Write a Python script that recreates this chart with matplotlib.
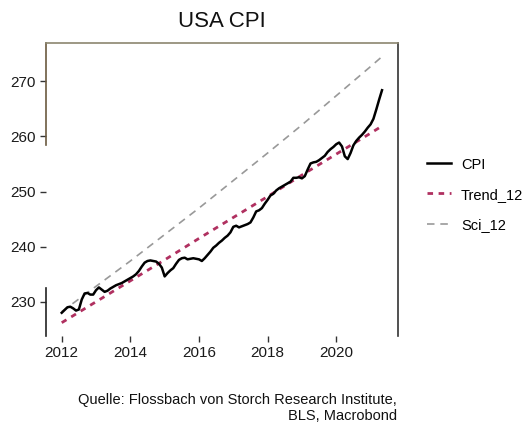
import matplotlib
matplotlib.use("Agg")
import matplotlib.pyplot as plt
import numpy as np

plt.rcParams['font.family'] = ['Liberation Sans', 'DejaVu Sans']

# Monthly CPI (seasonally adjusted), Jan 2012 .. May 2021
cpi_2012 = [228.0, 228.5, 229.0, 229.1, 228.8, 228.4, 228.6, 230.4, 231.5, 231.6, 231.3, 231.3]
cpi_2013 = [232.1, 232.6, 232.2, 231.8, 232.0, 232.4, 232.7, 233.0, 233.2, 233.4, 233.7, 234.0]
cpi_2014 = [234.3, 234.6, 235.0, 235.6, 236.4, 237.1, 237.4, 237.5, 237.4, 237.3, 236.9, 236.2]
cpi_2015 = [234.6, 235.2, 235.7, 236.1, 236.9, 237.6, 237.9, 238.0, 237.7, 237.8, 237.9, 237.8]
cpi_2016 = [237.7, 237.4, 237.9, 238.5, 239.1, 239.8, 240.2, 240.7, 241.1, 241.6, 242.0, 242.6]
cpi_2017 = [243.6, 243.8, 243.5, 243.7, 243.9, 244.1, 244.4, 245.3, 246.4, 246.6, 247.0, 247.8]
cpi_2018 = [248.5, 249.3, 249.6, 250.2, 250.6, 250.9, 251.2, 251.5, 251.8, 252.5, 252.5, 252.6]
cpi_2019 = [252.4, 252.8, 254.0, 255.1, 255.3, 255.4, 255.7, 256.1, 256.5, 257.2, 257.7, 258.1]
cpi_2020 = [258.6, 258.9, 258.2, 256.4, 255.9, 257.0, 258.4, 259.2, 259.8, 260.3, 260.9, 261.6]
cpi_2021 = [262.2, 263.2, 264.9, 266.7, 268.4]
cpi = (cpi_2012 + cpi_2013 + cpi_2014 + cpi_2015 + cpi_2016 + cpi_2017
       + cpi_2018 + cpi_2019 + cpi_2020 + cpi_2021)
start_year = 2012

# Trend lines read at each January plus the last month (May 2021)
trend_years = [2012, 2013, 2014, 2015, 2016, 2017, 2018, 2019, 2020, 2021, 2021 + 4 / 12]
trend_12 = [226.2, 230.0, 233.8, 237.6, 241.5, 245.3, 249.1, 253.0, 256.8, 260.6, 261.9]
sci_12 = [228.2, 232.8, 237.4, 242.2, 247.0, 252.0, 257.0, 262.1, 267.4, 272.7, 274.5]

x_ticks = [2012, 2014, 2016, 2018, 2020]
y_ticks = [230, 240, 250, 260, 270]

title = "USA CPI"
caption = "Quelle: Flossbach von Storch Research Institute,\nBLS, Macrobond"

cpi_x = [start_year + i / 12 for i in range(len(cpi))]

fig = plt.figure(figsize=(5.29, 4.23), dpi=100)
ax = fig.add_axes([0.0864, 0.2057, 0.6660, 0.6919])

l_sci, = ax.plot(trend_years, sci_12, color='#999999', lw=1.2, dashes=(4.5, 3.5), label='Sci_12')
l_trend, = ax.plot(trend_years, trend_12, color='#B03060', lw=2.0, dashes=(2, 2), label='Trend_12')
l_cpi, = ax.plot(cpi_x, cpi, color='black', lw=1.8, label='CPI')

xmin, xmax = min(cpi_x + trend_years), max(cpi_x + trend_years)
ymin, ymax = min(cpi + trend_12 + sci_12), max(cpi + trend_12 + sci_12)
ax.set_xlim(xmin - 0.05 * (xmax - xmin), xmax + 0.05 * (xmax - xmin))
ax.set_ylim(ymin - 0.05 * (ymax - ymin), ymax + 0.05 * (ymax - ymin))

ax.set_xticks(x_ticks)
ax.set_xticklabels([str(v) for v in x_ticks])
ax.set_yticks(y_ticks)
ax.set_yticklabels([str(v) for v in y_ticks])
ax.tick_params(axis='both', labelsize=11, colors='#333333', labelcolor='#1a1a1a',
               length=4, width=1.0, pad=3)

for s in ['bottom', 'left']:
    ax.spines[s].set_visible(False)
ax.spines['top'].set_color('#8c8670')
ax.spines['top'].set_linewidth(1.2)
ax.spines['right'].set_color('#333333')
ax.spines['right'].set_linewidth(1.2)
# partial left border as in the reference
ax.plot([0, 0], [0.652, 1.0], transform=ax.transAxes, color='#6b5a40', lw=1.2, clip_on=False)
ax.plot([0, 0], [0.0, 0.164], transform=ax.transAxes, color='#222222', lw=1.2, clip_on=False)

fig.text(0.4197, 0.948, title, ha='center', va='center', fontsize=16, color='#111111')

leg = fig.legend(handles=[l_cpi, l_trend, l_sci], loc='center left',
                 bbox_to_anchor=(0.783, 0.54), frameon=False, fontsize=10.5,
                 handlelength=1.6, handletextpad=0.7, labelspacing=1.1)

fig.text(0.7505, 0.0, caption, ha='right', va='bottom', fontsize=10.5,
         color='#111111', linespacing=1.15)

fig.savefig('out.png', dpi=100)
